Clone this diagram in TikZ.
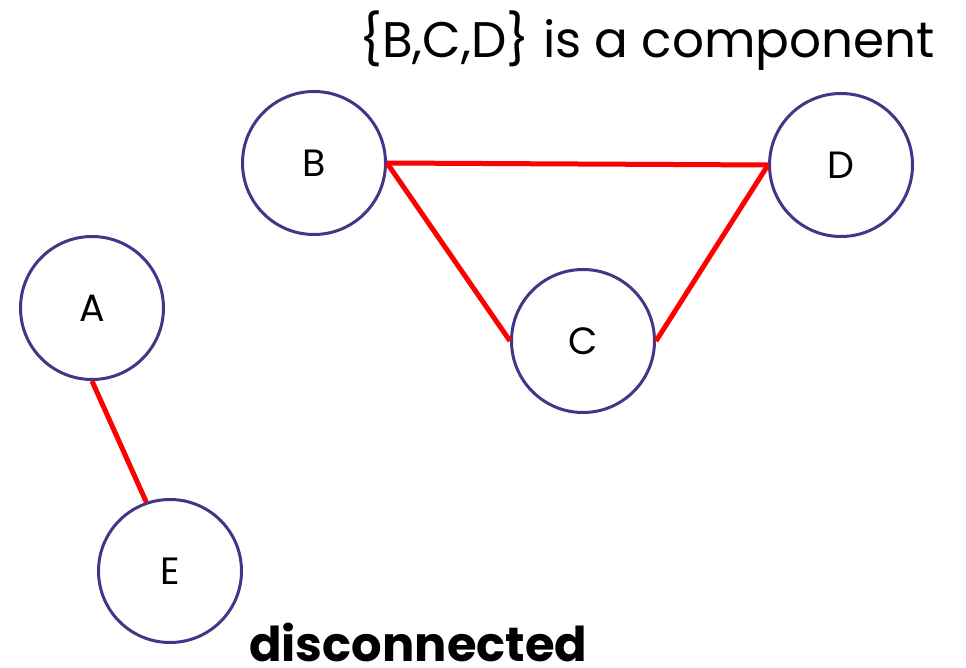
\documentclass[tikz,border=0pt]{standalone}
\usepackage{fontspec}
\setmainfont{Poppins}
\definecolor{ringpurple}{RGB}{72,52,135}
\definecolor{edgered}{RGB}{255,0,0}
\begin{document}
\begin{tikzpicture}[x=1pt,y=-1pt,
  vertex/.style={circle,draw=ringpurple,line width=3pt,minimum size=143pt,inner sep=0pt,font=\fontsize{38}{38}\selectfont},
  link/.style={draw=edgered,line width=5pt}]
\useasboundingbox (0,0) rectangle (966,668);
\node[vertex] (B) at (314,163) {B};
\node[vertex] (D) at (841,165) {D};
\node[vertex] (C) at (583,341) {C};
\node[vertex] (A) at (92,308) {A};
\node[vertex] (E) at (170,571) {E};
\draw[link] (B.east) -- (D.west);
\draw[link] (B.east) -- (C.west);
\draw[link] (C.east) -- (D.west);
\draw[link] (A.south) -- (E.109);
\node[anchor=base east,inner sep=0pt,font=\fontsize{50}{50}\selectfont] (title) at (935,58) {\{B,C,D\} is a component};
\node[anchor=base west,inner sep=0pt,text depth=0pt,font=\fontsize{48}{48}\selectfont\bfseries] (label) at (249,661) {disconnected};
\end{tikzpicture}
\end{document}
